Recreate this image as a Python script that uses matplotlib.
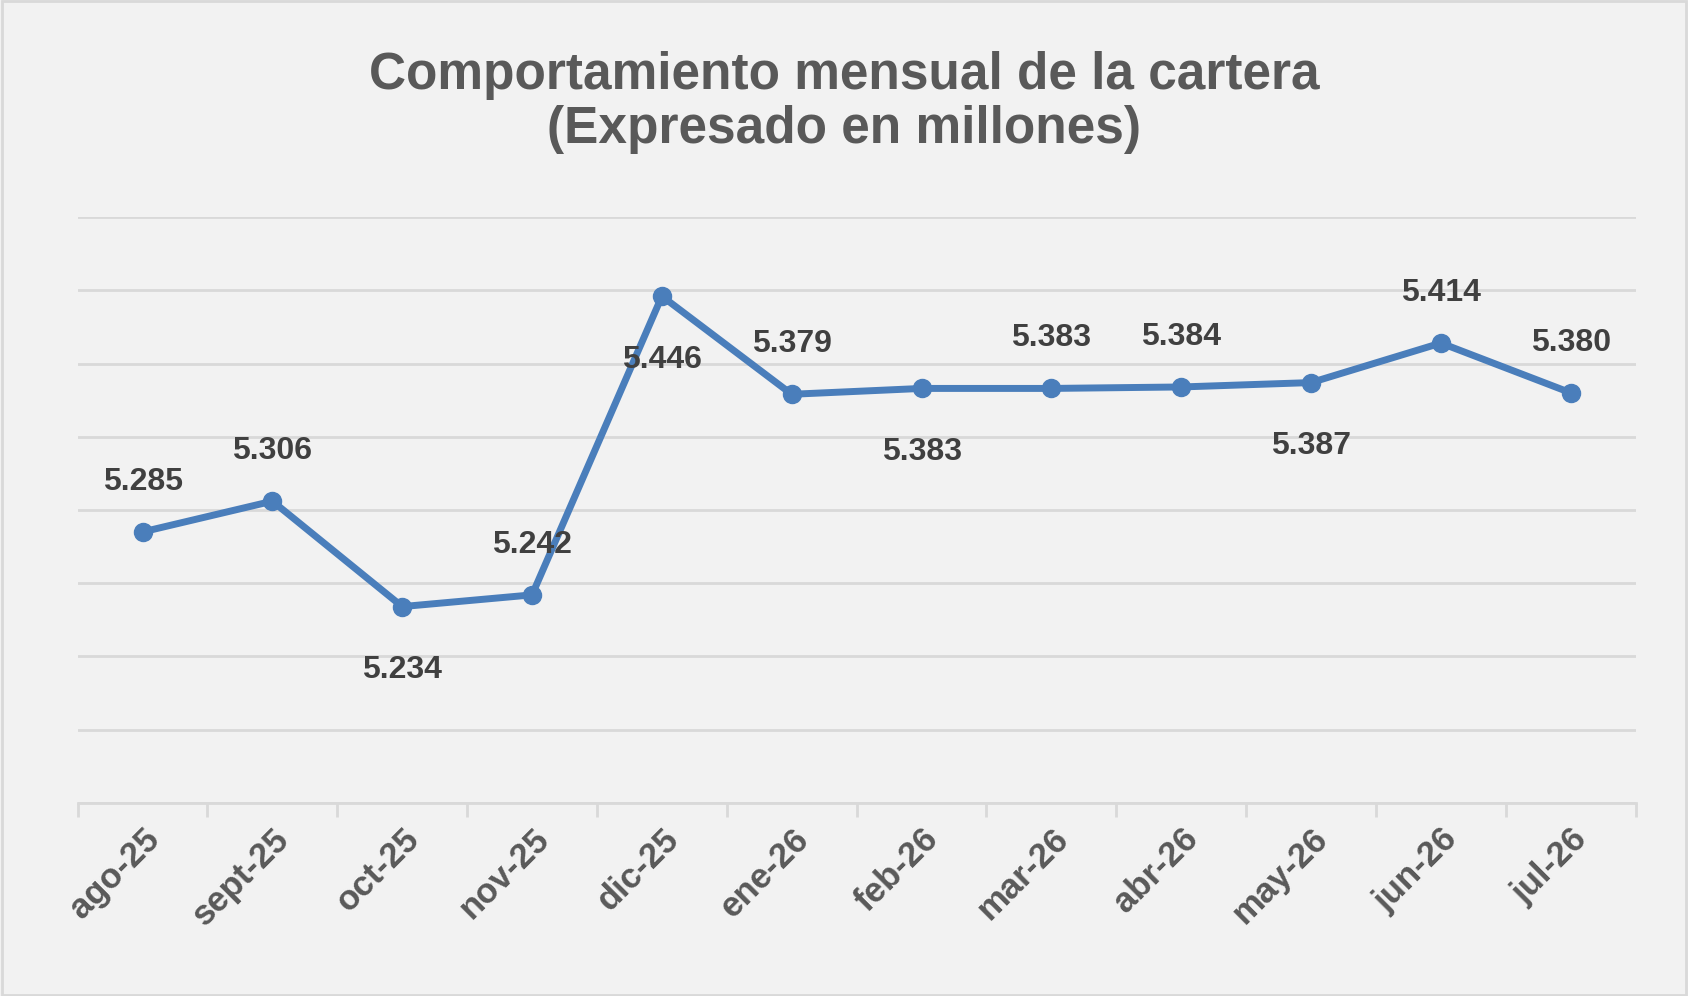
import numpy as np
import matplotlib.pyplot as plt

months = ['ago-25', 'sept-25', 'oct-25', 'nov-25', 'dic-25', 'ene-26',
          'feb-26', 'mar-26', 'abr-26', 'may-26', 'jun-26', 'jul-26']
values = [5.285, 5.306, 5.234, 5.242, 5.446, 5.379,
          5.383, 5.383, 5.384, 5.387, 5.414, 5.380]
label_pos = ['above', 'above', 'below', 'above', 'below', 'above',
             'below', 'above', 'above', 'below', 'above', 'above']

BG = '#F2F2F2'
LINE = '#4A7EBB'
TXT = '#595959'

fig = plt.figure(figsize=(16.88, 9.96), dpi=100, facecolor=BG)
ax = fig.add_axes([0.046, 0.194, 0.923, 0.588], facecolor=BG)

x = np.arange(len(months))
ax.plot(x, values, color=LINE, lw=5, marker='o', ms=13, zorder=3)

for xi, v, pos in zip(x, values, label_pos):
    dy = 36 if pos == 'above' else -46
    ax.annotate(f'{v:.3f}', (xi, v), xytext=(0, dy), textcoords='offset points',
                ha='center', va='center', fontsize=23, fontweight='bold',
                color='#404040', family='Liberation Sans')

ax.set_ylim(5.10, 5.50)
ax.set_xlim(-0.5, len(months) - 0.5)
ax.set_yticks(np.arange(5.10, 5.501, 0.05))
ax.yaxis.grid(True, color='#D9D9D9', lw=2)
ax.tick_params(axis='y', left=False, labelleft=False)
ax.set_xticks(x)
ax.set_xticklabels(months, rotation=45, ha='right', rotation_mode='anchor',
                   fontsize=25, fontweight='bold', color=TXT, family='Liberation Sans')
ax.tick_params(axis='x', length=0, pad=14)
ax.set_xticks(np.arange(-0.5, len(months)), minor=True)
ax.tick_params(axis='x', which='minor', length=10, color='#D9D9D9', width=2)
for s in ['top', 'right', 'left']:
    ax.spines[s].set_visible(False)
ax.spines['bottom'].set_color('#D9D9D9')
ax.spines['bottom'].set_linewidth(2)
ax.set_axisbelow(True)

fig.text(0.5, 0.897, 'Comportamiento mensual de la cartera\n(Expresado en millones)',
         ha='center', va='center', fontsize=37, fontweight='bold', color=TXT,
         family='Liberation Sans', linespacing=1.15)

fig.patches.append(plt.Rectangle((0.001, 0.001), 0.998, 0.998, transform=fig.transFigure,
                                 fill=False, edgecolor='#D9D9D9', lw=2))
fig.savefig('out.png', facecolor=BG)
